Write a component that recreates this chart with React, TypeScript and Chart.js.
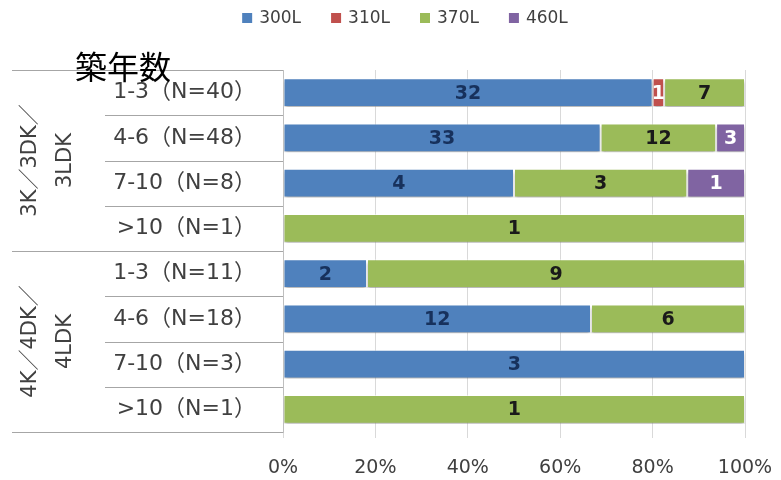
import React, { useEffect, useRef } from "react";
import { Chart, registerables } from "chart.js";

Chart.register(...registerables);

const categories = [
  "1-3（N=40）",
  "4-6（N=48）",
  "7-10（N=8）",
  ">10（N=1）",
  "1-3（N=11）",
  "4-6（N=18）",
  "7-10（N=3）",
  ">10（N=1）",
];
const groupLabels = [
  ["3K／3DK／", "3LDK"],
  ["4K／4DK／", "4LDK"],
];
const groupSize = 4;
const axisTitle = "築年数";

const seriesNames = ["300L", "310L", "370L", "460L"];
const s300 = [32, 33, 4, 0, 2, 12, 3, 0];
const s310 = [1, 0, 0, 0, 0, 0, 0, 0];
const s370 = [7, 12, 3, 1, 9, 6, 0, 1];
const s460 = [0, 3, 1, 0, 0, 0, 0, 0];
const xTicks = [0, 20, 40, 60, 80, 100];

const seriesColors = ["#4F81BD", "#C0504D", "#9BBB59", "#8064A2"];
const labelColors = ["#17315c", "#ffffff", "#1a1a1a", "#ffffff"];

const FONT = '"DejaVu Sans", "Noto Sans CJK JP", sans-serif';

export default function App() {
  const ref = useRef<HTMLCanvasElement | null>(null);

  useEffect(() => {
    const canvas = ref.current;
    if (!canvas) return;
    const counts = [s300, s310, s370, s460];
    const totals = categories.map((_, i) => counts.reduce((a, s) => a + s[i], 0));

    const decor = {
      id: "decor",
      beforeDatasetsDraw(chart: any) {
        const ctx = chart.ctx;
        ctx.save();
        ctx.shadowColor = "rgba(0,0,0,0.3)";
        ctx.shadowOffsetX = 0;
        ctx.shadowOffsetY = 3;
        ctx.shadowBlur = 3;
      },
      afterDatasetsDraw(chart: any) {
        const ctx = chart.ctx;
        ctx.restore();
        ctx.save();
        ctx.font = `bold 19px ${FONT}`;
        ctx.textAlign = "center";
        ctx.textBaseline = "middle";
        chart.data.datasets.forEach((ds: any, di: number) => {
          const meta = chart.getDatasetMeta(di);
          meta.data.forEach((el: any, i: number) => {
            const c = ds.counts[i];
            if (!c) return;
            const cx = (el.x + el.base) / 2;
            ctx.fillStyle = labelColors[di];
            ctx.fillText(String(c), cx, el.y + 1);
          });
        });
        ctx.restore();
      },
      afterDraw(chart: any) {
        const ctx = chart.ctx;
        const area = chart.chartArea;
        const n = categories.length;
        const rowH = (area.bottom - area.top) / n;
        ctx.save();
        // separators
        ctx.strokeStyle = "#a6a6a6";
        ctx.lineWidth = 1;
        for (let i = 0; i <= n; i++) {
          const y = Math.round(area.top + i * rowH) + 0.5;
          const x0 = i % groupSize === 0 ? 12 : 105;
          ctx.beginPath();
          ctx.moveTo(x0, y);
          ctx.lineTo(area.left, y);
          ctx.stroke();
        }
        // group labels
        ctx.fillStyle = "#404040";
        ctx.font = `21px ${FONT}`;
        ctx.textAlign = "center";
        ctx.textBaseline = "middle";
        groupLabels.forEach((lines, g) => {
          const cy = area.top + (g * groupSize + groupSize / 2) * rowH;
          lines.forEach((t, li) => {
            ctx.save();
            ctx.translate(li === 0 ? 31 : 66, cy);
            ctx.rotate(-Math.PI / 2);
            ctx.fillText(t, 0, 0);
            ctx.restore();
          });
        });
        // axis title
        ctx.fillStyle = "#000000";
        ctx.font = `32px "Noto Sans CJK JP", sans-serif`;
        ctx.textAlign = "left";
        ctx.textBaseline = "middle";
        ctx.fillText(axisTitle, 75, 67);
        // legend
        ctx.font = `17px ${FONT}`;
        ctx.textBaseline = "middle";
        const box = 10, gap = 7, spacing = 30;
        const widths = chart.data.datasets.map((d: any) => ctx.measureText(d.label).width);
        const total = widths.reduce((a: number, w: number) => a + box + gap + w, 0) + spacing * (widths.length - 1);
        let x = 405 - total / 2;
        const ly = 18;
        chart.data.datasets.forEach((d: any, i: number) => {
          ctx.fillStyle = d.backgroundColor;
          ctx.fillRect(x, ly - box / 2, box, box);
          x += box + gap;
          ctx.fillStyle = "#404040";
          ctx.fillText(d.label, x, ly + 1);
          x += widths[i] + spacing;
        });
        ctx.restore();
      },
    };

    const chart = new Chart(canvas, {
      type: "bar",
      data: {
        labels: categories,
        datasets: seriesNames.map((name, di) => ({
          label: name,
          counts: counts[di],
          data: counts[di].map((v, i) => (v / totals[i]) * 100),
          backgroundColor: seriesColors[di],
          borderColor: "rgba(255,255,255,0.55)",
          borderWidth: 1,
          borderSkipped: false,
          barPercentage: 0.64,
          categoryPercentage: 1,
        })) as any,
      },
      options: {
        indexAxis: "y",
        responsive: false,
        animation: false,
        layout: { padding: { top: 70, right: 36, left: 0, bottom: 0 } },
        plugins: {
          legend: { display: false },
          tooltip: { enabled: false },
        },
        scales: {
          x: {
            stacked: true,
            min: 0,
            max: 100,
            afterBuildTicks: (s: any) => {
              s.ticks = xTicks.map((v) => ({ value: v }));
            },
            ticks: {
              callback: (v: any) => `${v}%`,
              color: "#404040",
              font: { family: FONT, size: 19 },
              padding: 19,
              maxRotation: 0,
            },
            grid: { color: "#d9d9d9", tickLength: 6 },
            border: { display: false },
            afterFit: (s: any) => {
              s.height = 48;
              s.paddingLeft = 0;
              s.paddingRight = 0;
            },
          },
          y: {
            stacked: true,
            grid: { display: false },
            border: { display: true, color: "#bfbfbf" },
            ticks: {
              color: "#404040",
              font: { family: FONT, size: 22 },
              padding: 19,
            },
            afterFit: (s: any) => {
              s.width = 283;
              s.paddingTop = 0;
              s.paddingBottom = 0;
            },
          },
        },
      },
      plugins: [decor],
    } as any);
    return () => chart.destroy();
  }, []);

  return (
    <div style={{ position: "fixed", left: 0, top: 0, width: 781, height: 480, background: "#fff" }}>
      <canvas ref={ref} width={781} height={480} style={{ display: "block" }} />
    </div>
  );
}
